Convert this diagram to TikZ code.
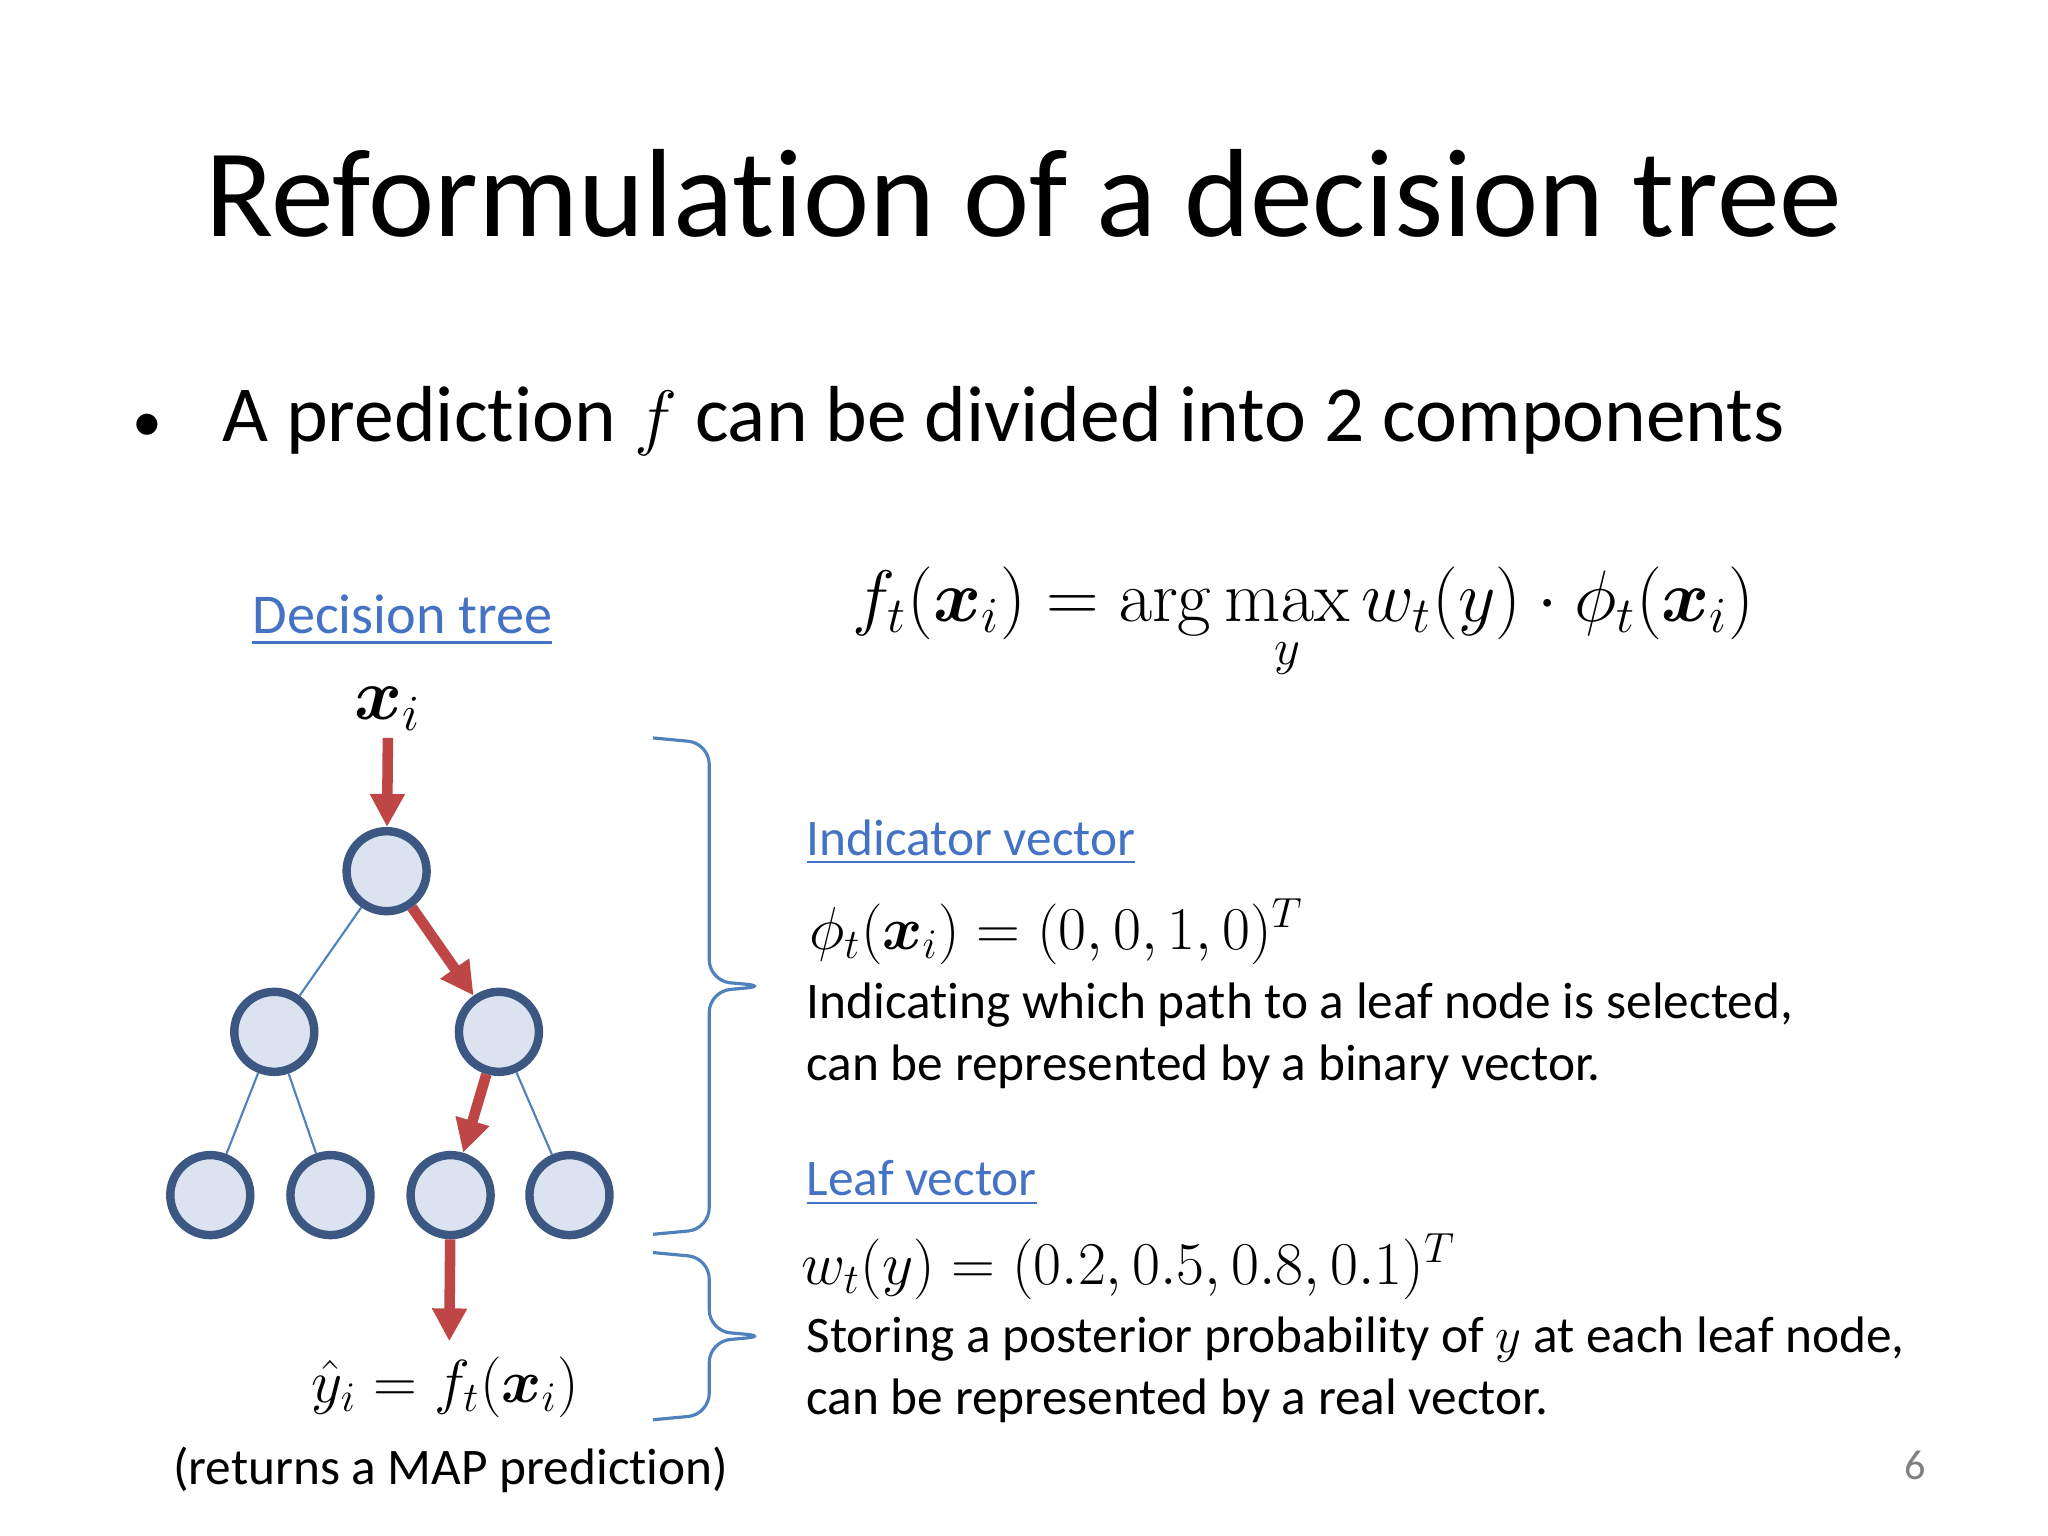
\documentclass[tikz,border=0pt]{standalone}
\usepackage{amsmath}
\usepackage[no-math]{fontspec}
\setmainfont[RawFeature=-liga]{Carlito}
\usetikzlibrary{arrows.meta}
\definecolor{nfill}{RGB}{219,227,241}
\definecolor{ndraw}{RGB}{60,88,130}
\definecolor{ared}{RGB}{190,70,70}
\definecolor{lblue}{RGB}{68,114,196}
\definecolor{tline}{RGB}{79,129,189}
\tikzset{
 tn/.style={circle,draw=ndraw,fill=nfill,line width=2.4pt,minimum size=0.8cm,inner sep=0pt},
 redarr/.style={draw=ared,line width=3pt,-{Triangle[length=0.33cm,width=0.33cm]}},
 thin line/.style={draw=tline,line width=0.6pt},
 brc/.style={draw=tline,line width=0.9pt,rounded corners=6pt},
 small/.style={font=\fontsize{14.6}{17.6}\selectfont,align=left,anchor=west,inner sep=0pt},
 link/.style={small,text=lblue},
}
\begin{document}
\begin{tikzpicture}[x=0.01306cm,y=-0.01306cm]
\useasboundingbox (0,0) rectangle (1568,1176);
\fill[white] (0,0) rectangle (1568,1176);
\node (title) at (784,148) {\fontsize{35.7}{42}\selectfont Reformulation of a decision tree};
\node[anchor=west] (bul) at (92,322) {\fontsize{22.6}{27}\selectfont {\fontsize{17}{20}\selectfont •}\hspace{0.6cm}A prediction $f$ can be divided into 2 components};
\node (dt) at (308,475) {\fontsize{16}{20}\selectfont\color{lblue}\underline{Decision tree}};
\node (eq) at (998,478) {\fontsize{22}{26}\selectfont $f_t(\boldsymbol{x}_i)=\arg\max\limits_{y} w_t(y)\cdot\phi_t(\boldsymbol{x}_i)$};
\node (xi) at (297,543) {\fontsize{21}{26}\selectfont $\boldsymbol{x}_i$};
\node[tn] (r) at (296,667) {};
\node[tn] (a) at (210,790) {};
\node[tn] (b) at (382,790) {};
\node[tn] (l1) at (161,915) {};
\node[tn] (l2) at (253,915) {};
\node[tn] (l3) at (345,915) {};
\node[tn] (l4) at (436,915) {};
\draw[thin line] (r) -- (a);
\draw[thin line] (a) -- (l1);
\draw[thin line] (a) -- (l2);
\draw[thin line] (b) -- (l4);
\coordinate (xs) at (297,565);
\draw[redarr] (xs) -- (r);
\draw[redarr] (r) -- (b);
\draw[redarr] (b) -- (l3);
\coordinate (ye) at (344,1027);
\draw[redarr] (l3) -- (ye);
\node (yh) at (341,1062) {\fontsize{17.5}{22}\selectfont $\hat{y}_i=f_t(\boldsymbol{x}_i)$};
\node (map) at (345,1125) {\fontsize{14.6}{18}\selectfont (returns a MAP prediction)};
\draw[brc] (500,565) -- (543,569) -- (543,751) -- (587,755) -- (543,759) -- (543,941) -- (500,945);
\draw[brc] (500,959) -- (543,963) -- (543,1019) -- (587,1023) -- (543,1027) -- (543,1083) -- (500,1087);
\node[link] (iv) at (617,645) {\underline{Indicator vector}};
\node[small] (phi) at (619,713) {\fontsize{17}{20}\selectfont $\phi_t(\boldsymbol{x}_i)=(0,0,1,0)^T$};
\node[small] (t1) at (617,793) {Indicating which path to a leaf node is selected,\\can be represented by a binary vector.};
\node[link] (lv) at (617,906) {\underline{Leaf vector}};
\node[small] (w) at (613,970) {\fontsize{17}{20}\selectfont $w_t(y)=(0.2,0.5,0.8,0.1)^T$};
\node[small] (t2) at (617,1049) {Storing a posterior probability of $y$ at each leaf node,\\can be represented by a real vector.};
\node (pn) at (1466,1122) {\fontsize{12}{14}\selectfont\color{gray} 6};
\end{tikzpicture}
\end{document}
